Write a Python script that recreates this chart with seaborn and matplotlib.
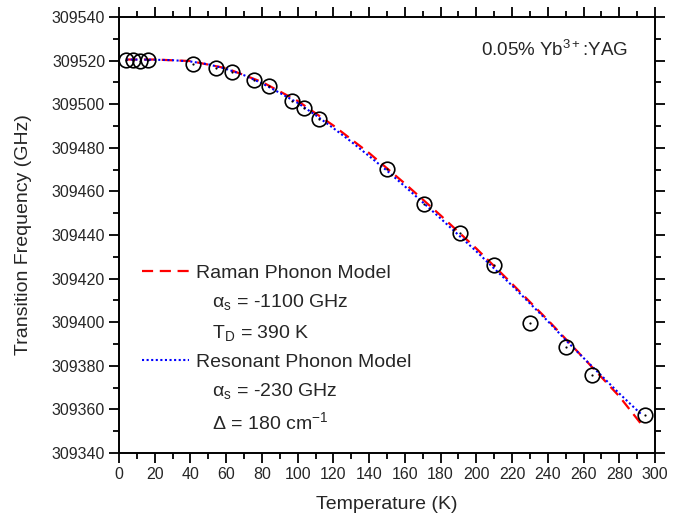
import matplotlib
matplotlib.use("Agg")
import matplotlib.pyplot as plt
import seaborn as sns
import pandas as pd
from matplotlib.lines import Line2D
from matplotlib.ticker import MultipleLocator, FormatStrFormatter

# ---- data ----
temp_meas = [4, 8, 11.5, 16, 41.2, 54.1, 63.1, 75.5, 84.1, 97, 103.7, 112.1,
             149.8, 170.9, 190.8, 209.8, 230, 250, 264.9, 294.3]
freq_meas = [309520.2, 309520.2, 309520.0, 309520.2, 309518.5, 309516.8, 309515.0,
             309511.0, 309508.3, 309501.6, 309498.2, 309493.2, 309470.5, 309454.3,
             309440.9, 309426.2, 309399.5, 309388.4, 309376.0, 309357.4]

temp_raman = [4, 20, 40, 60, 80, 100, 120, 140, 160, 180, 200, 220, 240, 260, 280, 294]
freq_raman = [309520.5, 309520.5, 309519.8, 309516.5, 309510.2, 309501.5, 309490.2,
              309477.6, 309463.6, 309449.0, 309433.8, 309417.6, 309401.0, 309383.6,
              309366.0, 309351.5]

temp_reson = [4, 20, 30, 40, 50, 60, 70, 80, 90, 100, 110, 120, 130, 140, 150, 160, 170,
              180, 190, 200, 210, 220, 230, 240, 250, 260, 270, 280, 292]
freq_reson = [309520.5, 309520.4, 309520.2, 309519.6, 309518.3, 309516.2, 309513.3,
              309509.6, 309505.2, 309500.6, 309495.0, 309489.0, 309482.8, 309476.2,
              309469.5, 309462.3, 309455.0, 309447.6, 309440.0, 309432.5, 309424.6,
              309416.8, 309408.6, 309400.5, 309391.8, 309383.6, 309375.5, 309367.3,
              309358.0]

label_raman = "Raman Phonon Model"
label_reson = "Resonant Phonon Model"
params_raman = ["α$_\\mathrm{s}$ = -1100 GHz", "T$_\\mathrm{D}$ = 390 K"]
params_reson = ["α$_\\mathrm{s}$ = -230 GHz", "Δ = 180 cm$^{-1}$"]
sample_text = "0.05% Yb$^{3+}$:YAG"

# ---- style ----
sns.set_style("ticks")
plt.rcParams["font.family"] = ["Liberation Sans", "DejaVu Sans"]
plt.rcParams["mathtext.fontset"] = "custom"
plt.rcParams["mathtext.rm"] = "Liberation Sans"
plt.rcParams["mathtext.it"] = "Liberation Sans:italic"
plt.rcParams["mathtext.bf"] = "Liberation Sans:bold"

fig = plt.figure(figsize=(6.82, 5.19), dpi=100)
ax = fig.add_axes([0.1745, 0.1272, 0.7859, 0.8400])

df_meas = pd.DataFrame({"T": temp_meas, "f": freq_meas})
df_raman = pd.DataFrame({"T": temp_raman, "f": freq_raman})
df_reson = pd.DataFrame({"T": temp_reson, "f": freq_reson})

sns.lineplot(data=df_raman, x="T", y="f", ax=ax, color="#ff0000", lw=1.6,
             linestyle=(0, (5, 3)), zorder=2)
sns.lineplot(data=df_reson, x="T", y="f", ax=ax, color="#0000ff", lw=1.5,
             linestyle=(0, (1, 1.2)), zorder=3)
ax.plot(df_meas["T"], df_meas["f"], linestyle="none", marker="o", ms=10.5,
        mfc="none", mec="black", mew=1.2, zorder=4)
ax.plot(df_meas["T"], df_meas["f"], linestyle="none", marker="o", ms=1.6,
        mfc="black", mec="black", mew=0, zorder=5)

ax.set_xlim(0, 300)
ax.set_ylim(309340, 309540)
ax.xaxis.set_major_locator(MultipleLocator(20))
ax.xaxis.set_minor_locator(MultipleLocator(10))
ax.yaxis.set_major_locator(MultipleLocator(20))
ax.yaxis.set_minor_locator(MultipleLocator(10))
ax.yaxis.set_major_formatter(FormatStrFormatter("%d"))

for s in ax.spines.values():
    s.set_visible(True)
    s.set_linewidth(1.4)
    s.set_color("black")
ax.tick_params(which="both", direction="out", top=True, right=True,
               labeltop=False, labelright=False, color="black", width=1.3)
ax.tick_params(which="major", length=7, labelsize=11.5, pad=3)
ax.tick_params(which="minor", length=4)

ax.set_xlabel("Temperature (K)", fontsize=14, labelpad=10)
ax.set_ylabel("Transition Frequency (GHz)", fontsize=14, labelpad=14)

ax.text(0.95, 0.924, sample_text, transform=ax.transAxes, ha="right",
        va="center", fontsize=13.5)

blank = Line2D([], [], linestyle="none")
handles = [Line2D([], [], color="#ff0000", lw=1.6, linestyle=(0, (5, 3))),
           blank, blank,
           Line2D([], [], color="#0000ff", lw=1.5, linestyle=(0, (1, 1.2))),
           blank, blank]
labels = [label_raman, "   " + params_raman[0], "   " + params_raman[1],
          label_reson, "   " + params_reson[0], "   " + params_reson[1]]
leg = ax.legend(handles, labels, loc="center left", bbox_to_anchor=(0.043, 0.239),
                frameon=False, fontsize=14, handlelength=2.4, handletextpad=0.35,
                labelspacing=0.53, borderpad=0, borderaxespad=0)

fig.savefig("out.png", dpi=100)
